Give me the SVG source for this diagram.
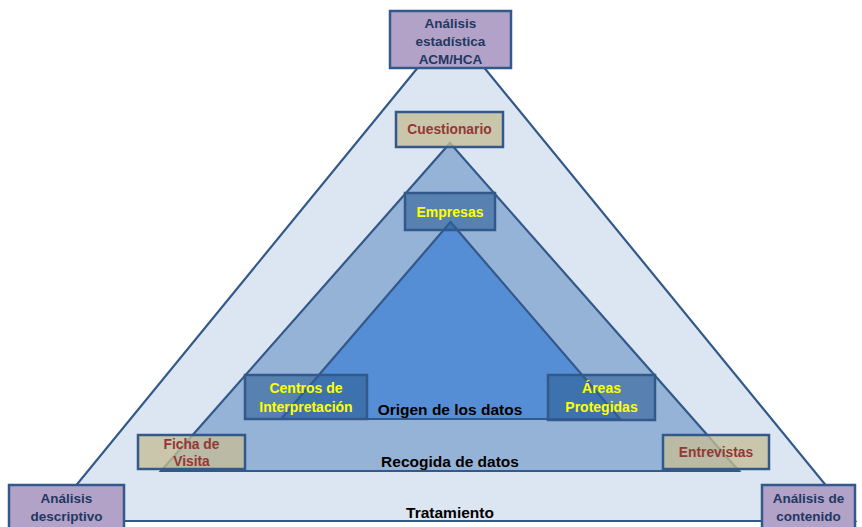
<svg xmlns="http://www.w3.org/2000/svg" width="862" height="527" viewBox="0 0 862 527">
<style>
.tri{stroke:#33598a;stroke-width:2.2;stroke-linejoin:miter}
.box{stroke:#33598a;stroke-width:2.5}
.purple{fill:#b3a2c7}
.tan{fill:#c4bd97;fill-opacity:0.78}
.blue{fill:#2f5f96;fill-opacity:0.6}
text{font-family:"Liberation Sans",Arial,sans-serif;font-weight:bold;text-anchor:middle}
.navy{fill:#1f3864;font-size:13.5px}
.red{fill:#953735;font-size:13.8px}
.yel{fill:#ffff00;font-size:14px}
.lbl{fill:#000;font-size:15.5px}
</style>
<rect width="862" height="527" fill="#ffffff"/>
<g id="layers">
<polygon id="tratamiento" class="tri" fill="#dce6f2" points="451,27 855,521 47,521"/>
<polygon id="recogida" class="tri" fill="#95b3d7" points="450,143 739,471 161,471"/>
<polygon id="origen" class="tri" fill="#558ed5" points="450.5,222 620,419 281,419"/>
</g>
<g id="connectors"></g>
<g id="label-origen"><text class="lbl" x="450" y="415">Origen de los datos</text></g>
<g id="label-recogida"><text class="lbl" x="450" y="467">Recogida de datos</text></g>
<g id="label-tratamiento"><text class="lbl" x="450" y="518">Tratamiento</text></g>
<g id="n-estadistica">
<rect class="box purple" x="390" y="11" width="121" height="57"/>
<text class="navy" x="450.5" y="28">Análisis</text>
<text class="navy" x="450.5" y="46">estadística</text>
<text class="navy" x="450.5" y="64">ACM/HCA</text>
</g>
<g id="n-cuestionario">
<rect class="box tan" x="396" y="112" width="107" height="35"/>
<text class="red" x="449.5" y="134">Cuestionario</text>
</g>
<g id="n-empresas">
<rect class="box blue" x="405" y="193" width="90" height="37"/>
<text class="yel" x="450" y="217">Empresas</text>
</g>
<g id="n-centros">
<rect class="box blue" x="245" y="375" width="122" height="44"/>
<text class="yel" x="306" y="393">Centros de</text>
<text class="yel" x="306" y="412">Interpretación</text>
</g>
<g id="n-areas">
<rect class="box blue" x="548" y="375" width="107" height="45"/>
<text class="yel" x="601.5" y="393">Áreas</text>
<text class="yel" x="601.5" y="412">Protegidas</text>
</g>
<g id="n-ficha">
<rect class="box tan" x="138" y="435" width="107" height="34"/>
<text class="red" x="191.5" y="449" fill="#b04848">Ficha de</text>
<text class="red" x="191.5" y="466" fill="#b04848">Visita</text>
</g>
<g id="n-entrevistas">
<rect class="box tan" x="663" y="435" width="106" height="34"/>
<text class="red" x="716" y="457">Entrevistas</text>
</g>
<g id="n-descriptivo">
<rect class="box purple" x="9" y="485" width="115" height="50"/>
<text class="navy" x="66.5" y="503">Análisis</text>
<text class="navy" x="66.5" y="521">descriptivo</text>
</g>
<g id="n-contenido">
<rect class="box purple" x="762" y="485" width="93" height="50"/>
<text class="navy" x="808.5" y="503">Análisis de</text>
<text class="navy" x="808.5" y="521">contenido</text>
</g>
</svg>
